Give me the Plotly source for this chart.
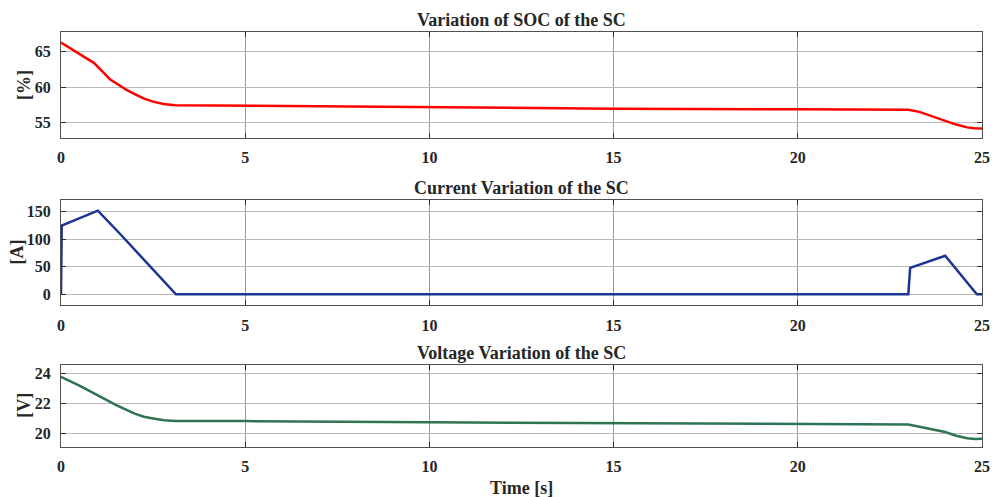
import plotly.graph_objects as go
from plotly.subplots import make_subplots

# ---- data ----
soc_t = [0, 0.45, 0.9, 1.33, 1.78, 2.0, 2.24, 2.5, 2.78, 3.1, 5, 10, 15, 20, 23.0, 23.3, 23.7, 24.0, 24.3, 24.6, 24.8, 25]
soc_v = [66.3, 64.9, 63.4, 61.1, 59.6, 59.0, 58.4, 57.95, 57.6, 57.45, 57.38, 57.1, 56.95, 56.85, 56.8, 56.5, 55.8, 55.2, 54.7, 54.3, 54.17, 54.15]

cur_t = [0, 0.02, 1.0, 1.6, 3.12, 5, 10, 15, 20, 23.0, 23.05, 24.0, 24.86, 25]
cur_v = [0, 125, 152, 110, 0, 0, 0, 0, 0, 0, 48, 70, 0, 0]

vol_t = [0, 0.5, 1.0, 1.5, 2.0, 2.25, 2.5, 2.8, 3.1, 5, 10, 15, 20, 23.0, 23.3, 23.7, 24.0, 24.3, 24.6, 24.8, 25]
vol_v = [23.78, 23.2, 22.55, 21.89, 21.33, 21.12, 21.0, 20.88, 20.84, 20.83, 20.75, 20.68, 20.63, 20.6, 20.45, 20.25, 20.1, 19.85, 19.68, 19.64, 19.65]

x_ticks = [0, 5, 10, 15, 20, 25]
titles = ["Variation of SOC of the SC", "Current Variation of the SC", "Voltage Variation of the SC"]
y_labels = ["[%]", "[A]", "[V]"]
y_ranges = [[52.8, 67.8], [-20, 172], [19.1, 24.6]]
y_ticks = [[55, 60, 65], [0, 50, 100, 150], [20, 22, 24]]
colors = ["#ff0000", "#1c3593", "#2e7352"]

fig = make_subplots(rows=3, cols=1)
series = [(soc_t, soc_v), (cur_t, cur_v), (vol_t, vol_v)]
for i, (t, v) in enumerate(series):
    fig.add_trace(go.Scatter(x=t, y=v, mode="lines",
                             line=dict(color=colors[i], width=2.5),
                             showlegend=False), row=i + 1, col=1)

SERIF = "Liberation Serif, Times New Roman, serif"
domains = [[0.7446, 1.0], [0.3414, 0.5961], [0.0, 0.1986]]
label_shift = [-37, -44, -37]
tfont = dict(family=SERIF, size=16, color="#262626", weight="bold")
for i in range(3):
    xa = "xaxis" if i == 0 else f"xaxis{i+1}"
    ya = "yaxis" if i == 0 else f"yaxis{i+1}"
    fig.layout[xa].update(range=[0, 25], tickvals=x_ticks, showgrid=True, gridcolor="#9a9a9a", gridwidth=1,
                          showline=True, linecolor="#505050", linewidth=1, mirror="ticks",
                          ticks="inside", ticklen=5, tickcolor="#303030", tickfont=tfont,
                          zeroline=False, domain=[0, 1], ticklabelstandoff=5, automargin=False)
    fig.layout[ya].update(range=y_ranges[i], tickvals=y_ticks[i], showgrid=True, gridcolor="#b8b8b8", gridwidth=1,
                          showline=True, linecolor="#505050", linewidth=1, mirror="ticks",
                          ticks="inside", ticklen=5, tickcolor="#303030", tickfont=tfont,
                          zeroline=False, domain=domains[i], ticklabelstandoff=6, automargin=False)
    fig.add_annotation(text="<b>" + titles[i] + "</b>", xref="paper", yref="paper", x=0.5,
                       y=domains[i][1], yshift=1, xanchor="center", yanchor="bottom", showarrow=False,
                       borderpad=0, font=dict(family=SERIF, size=18, color="#262626"))
    fig.add_annotation(text="<b>" + y_labels[i] + "</b>", xref="paper", yref="paper", x=0, xshift=label_shift[i],
                       y=(domains[i][0] + domains[i][1]) / 2, xanchor="center", yanchor="middle",
                       textangle=-90, showarrow=False, borderpad=0,
                       font=dict(family=SERIF, size=18, color="#262626"))

fig.add_annotation(text="<b>Time [s]</b>", xref="paper", yref="paper", x=0.5, y=0, yshift=-29,
                   xanchor="center", yanchor="top", showarrow=False,
                   font=dict(family=SERIF, size=18, color="#262626"))

fig.update_layout(width=992, height=497, margin=dict(l=61, r=10, t=32, b=50),
                  plot_bgcolor="white", paper_bgcolor="white")
fig.write_html("out.html", config={"displayModeBar": False},
               post_script="document.body.style.margin='0px';document.body.style.overflow='hidden';")
